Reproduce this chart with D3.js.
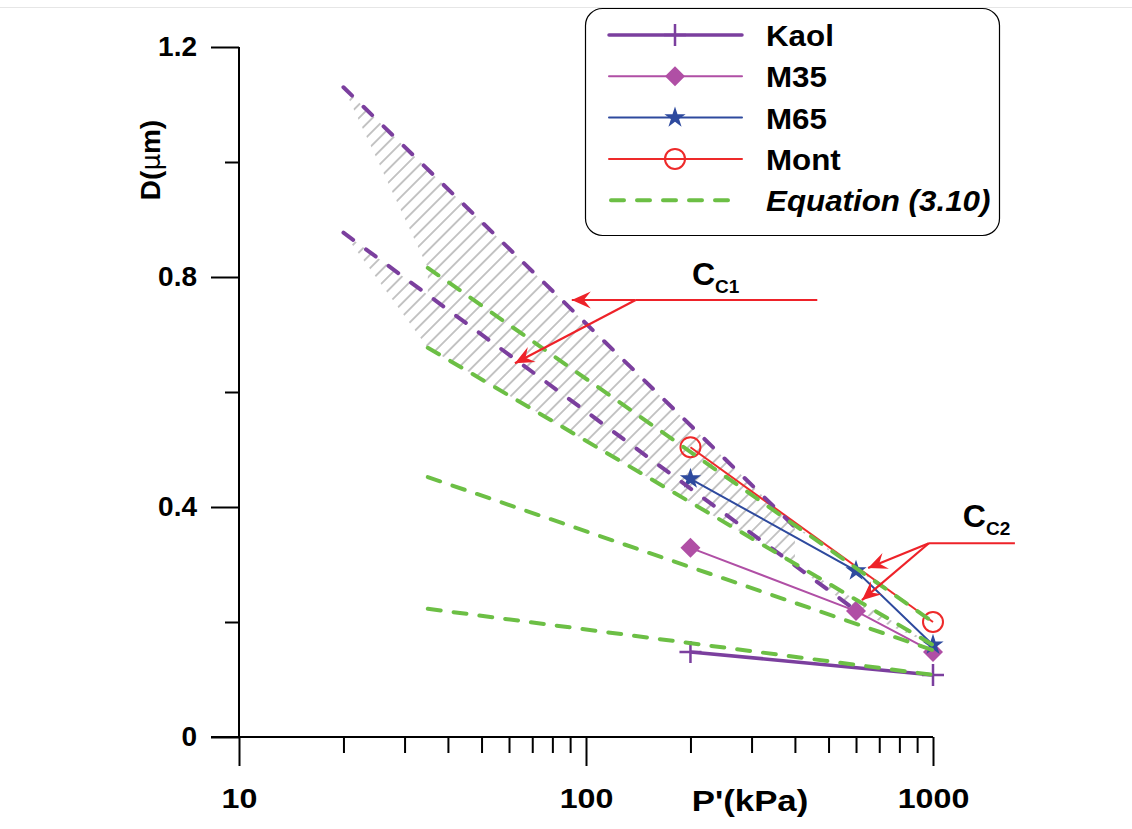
<!DOCTYPE html>
<html>
<head>
<meta charset="utf-8">
<script src="https://cdn.jsdelivr.net/npm/d3@7"></script>
<style>
  html, body { margin: 0; padding: 0; background: #ffffff; }
  svg { display: block; font-family: "Liberation Sans", Arial, sans-serif; }
</style>
</head>
<body>
<svg id="chart" width="1132" height="829"></svg>
<script>
// ---------- data ----------
const xTicksMajor = [10, 100, 1000];
const xTicksMinor = [20, 30, 40, 50, 60, 70, 80, 90, 200, 300, 400, 500, 600, 700, 800, 900];
const yTicksMajor = [0, 0.4, 0.8, 1.2];
const yTicksMinor = [0.2, 0.6, 1.0];

const kaolP = [200, 1000];
const kaolD = [0.148, 0.108];
const m35P = [200, 600, 1000];
const m35D = [0.329, 0.219, 0.148];
const m65P = [200, 600, 1000];
const m65D = [0.449, 0.289, 0.160];
const montP = [200, 1000];
const montD = [0.504, 0.200];

// Equation (3.10) curves
const eqP = [35, 1000];
const eq1D = [0.816, 0.200];
const eq2D = [0.677, 0.160];
const eq3D = [0.452, 0.151];
const eq4D = [0.223, 0.108];

// Cc1 boundary lines (purple dashed)
const ccUpperP = [20, 400];
const ccUpperD = [1.13, 0.365];
const ccLowerP = [20, 600];
const ccLowerD = [0.877, 0.220];

// pressure range of the hatched strip between Equation line 1 and the lower Cc1 line
const gapP = [35, 400];

// annotations (data units)
const cc1Label = { P: 202, D: 0.786, sub: "C1" };
const cc1Line = [[464, 0.76], [139, 0.76]];
const cc1Tips = [[91, 0.76], [62.4, 0.65]];
const cc2Label = { P: 1219, D: 0.365, sub: "C2" };
const cc2Line = [[1722, 0.337], [973, 0.337]];
const cc2Tips = [[650, 0.294], [624, 0.238]];

const legendItems = ["Kaol", "M35", "M65", "Mont", "Equation (3.10)"];

// ---------- colours ----------
const cKaol = "#7B3F9E", cM35 = "#B04FA5", cM65 = "#2E4A9E", cMont = "#EE2A2A";
const cEq = "#6CBF45", cHatch = "#BBBBBB", cRed = "#EE2229";

// ---------- scales ----------
const svg = d3.select("#chart");
const x = d3.scaleLog().domain([10, 1000]).range([239, 933]);
const y = d3.scaleLinear().domain([0, 1.2]).range([737, 47]);
const zip = (P, D) => P.map((p, i) => [p, D[i]]);
const line = d3.line().x(d => x(d[0])).y(d => y(d[1]));
// value on a straight (log-P) line at pressure p
const onLine = (P, D, p) => {
  const t = Math.log(p / P[0]) / Math.log(P[1] / P[0]);
  return D[0] + t * (D[1] - D[0]);
};

// faint top border
svg.append("line").attr("x1", 0).attr("x2", 1132).attr("y1", 7.5).attr("y2", 7.5)
  .attr("stroke", "#e6e6e6").attr("stroke-width", 1);

// ---------- defs ----------
const defs = svg.append("defs");
const pat = defs.append("pattern").attr("id", "hatch").attr("patternUnits", "userSpaceOnUse")
  .attr("width", 9.5).attr("height", 9.5).attr("patternTransform", "rotate(45)");
pat.append("line").attr("x1", 4.75).attr("x2", 4.75).attr("y1", 0).attr("y2", 9.5)
  .attr("stroke", cHatch).attr("stroke-width", 1.7);
defs.append("marker").attr("id", "arrow").attr("markerUnits", "userSpaceOnUse")
  .attr("viewBox", "-20 -10 22 20").attr("refX", 0).attr("refY", 0)
  .attr("markerWidth", 22).attr("markerHeight", 20).attr("orient", "auto")
  .append("path").attr("d", "M0,0 L-19,-8.5 L-12,0 L-19,8.5 Z").attr("fill", cRed);

// ---------- hatch areas ----------
function bandPath(upper, lower) {
  return "M" + upper.map(d => [x(d[0]), y(d[1])].join(",")).join("L") + "L" +
    lower.slice().reverse().map(d => [x(d[0]), y(d[1])].join(",")).join("L") + "Z";
}
const gapUpper = gapP.map(p => [p, onLine(eqP, eq1D, p)]);
const gapLower = gapP.map(p => [p, onLine(ccLowerP, ccLowerD, p)]);
[
  [zip(ccUpperP, ccUpperD), zip(eqP, eq1D)],
  [gapUpper, gapLower],
  [zip(ccLowerP, ccLowerD), zip(eqP, eq2D)]
].forEach(b => svg.append("path").attr("d", bandPath(b[0], b[1])).attr("fill", "url(#hatch)"));

// ---------- axes ----------
const axisFont = g => g.selectAll("text").attr("font-size", 28).attr("font-weight", "bold")
  .attr("fill", "#000").attr("font-family", "'Liberation Sans', Arial, sans-serif");

const gx = svg.append("g").attr("transform", `translate(0,${y(0)})`);
gx.call(d3.axisBottom(x).tickValues(xTicksMajor).tickSize(29).tickSizeOuter(0)
  .tickPadding(22).tickFormat(d3.format("d")));
gx.select(".domain").remove();
gx.selectAll(".tick line").attr("stroke", "#000").attr("stroke-width", 2);
axisFont(gx);
gx.selectAll(".tick text").attr("transform", "scale(1.15,1)");
const gxm = svg.append("g").attr("transform", `translate(0,${y(0)})`);
gxm.call(d3.axisBottom(x).tickValues(xTicksMinor).tickSize(16).tickFormat(""));
gxm.select(".domain").remove();
gxm.selectAll(".tick line").attr("stroke", "#000").attr("stroke-width", 2);
svg.append("line").attr("x1", x(10) - 28).attr("x2", x(1000)).attr("y1", y(0)).attr("y2", y(0))
  .attr("stroke", "#000").attr("stroke-width", 2);

const gy = svg.append("g").attr("transform", `translate(${x(10)},0)`);
gy.call(d3.axisLeft(y).tickValues(yTicksMajor).tickSize(28).tickSizeOuter(0).tickPadding(14)
  .tickFormat(d => d === 0 ? "0" : d3.format(".1f")(d)));
gy.select(".domain").remove();
gy.selectAll(".tick line").attr("stroke", "#000").attr("stroke-width", 2);
axisFont(gy);
const gym = svg.append("g").attr("transform", `translate(${x(10)},0)`);
gym.call(d3.axisLeft(y).tickValues(yTicksMinor).tickSize(14).tickFormat(""));
gym.select(".domain").remove();
gym.selectAll(".tick line").attr("stroke", "#000").attr("stroke-width", 2);
svg.append("line").attr("x1", x(10)).attr("x2", x(10)).attr("y1", y(1.2)).attr("y2", y(0))
  .attr("stroke", "#000").attr("stroke-width", 2);

// axis titles
svg.append("text").attr("transform", "translate(750,811) scale(1.2,1)").attr("text-anchor", "middle")
  .attr("font-size", 29).attr("font-weight", "bold").text("P'(kPa)");
const yt = svg.append("text").attr("transform", "translate(160,160) rotate(-90)")
  .attr("text-anchor", "middle").attr("font-size", 28).attr("font-weight", "bold");
yt.append("tspan").text("D(");
yt.append("tspan").attr("font-weight", "normal").attr("font-family", "'DejaVu Sans', sans-serif").attr("font-size", 26).text("μ");
yt.append("tspan").text("m)");

// ---------- markers ----------
const plusPath = "M-11,0H11M0,-11V11";
const diamondPath = d3.symbol(d3.symbolSquare, 200)();
const starPath = d3.symbol(d3.symbolStar, 140)();
function drawMarker(g, type, cx, cy) {
  if (type === "Kaol") g.append("path").attr("d", plusPath).attr("transform", `translate(${cx},${cy})`)
    .attr("stroke", cKaol).attr("stroke-width", 2.5).attr("fill", "none");
  if (type === "M35") g.append("path").attr("d", diamondPath).attr("transform", `translate(${cx},${cy}) rotate(45)`)
    .attr("fill", cM35);
  if (type === "M65") g.append("path").attr("d", starPath).attr("transform", `translate(${cx},${cy})`)
    .attr("fill", cM65);
  if (type === "Mont") g.append("circle").attr("cx", cx).attr("cy", cy).attr("r", 10)
    .attr("fill", "none").attr("stroke", cMont).attr("stroke-width", 2);
}

// ---------- data series ----------
const series = [
  { name: "Kaol", data: zip(kaolP, kaolD), color: cKaol, w: 3.5 },
  { name: "M35", data: zip(m35P, m35D), color: cM35, w: 2 },
  { name: "M65", data: zip(m65P, m65D), color: cM65, w: 2 },
  { name: "Mont", data: zip(montP, montD), color: cMont, w: 2 }
];
const gs = svg.append("g");
series.forEach(s => {
  gs.append("path").attr("d", line(s.data)).attr("fill", "none").attr("stroke", s.color).attr("stroke-width", s.w);
});
series.forEach(s => s.data.forEach(d => drawMarker(gs, s.name, x(d[0]), y(d[1]))));

// ---------- purple dashed Cc1 boundaries ----------
[zip(ccUpperP, ccUpperD), zip(ccLowerP, ccLowerD)].forEach(d => {
  svg.append("path").attr("d", line(d)).attr("fill", "none").attr("stroke", cKaol)
    .attr("stroke-width", 4).attr("stroke-linecap", "round").attr("stroke-dasharray", "12,16");
});
// ---------- green dashed Equation (3.10) ----------
[eq1D, eq2D, eq3D, eq4D].forEach(D => {
  svg.append("path").attr("d", line(zip(eqP, D))).attr("fill", "none").attr("stroke", cEq)
    .attr("stroke-width", 4).attr("stroke-linecap", "round").attr("stroke-dasharray", "13,13");
});

// ---------- annotations ----------
function annot(label, ln, tips) {
  const j = ln[1];
  svg.append("line").attr("x1", x(ln[0][0])).attr("y1", y(ln[0][1])).attr("x2", x(j[0])).attr("y2", y(j[1]))
    .attr("stroke", cRed).attr("stroke-width", 2.2);
  tips.forEach(t => {
    svg.append("line").attr("x1", x(j[0])).attr("y1", y(j[1])).attr("x2", x(t[0])).attr("y2", y(t[1]))
      .attr("stroke", cRed).attr("stroke-width", 2.2).attr("marker-end", "url(#arrow)");
  });
  const t = svg.append("text").attr("x", x(label.P)).attr("y", y(label.D)).attr("font-weight", "bold");
  t.append("tspan").attr("font-size", 32).text("C");
  t.append("tspan").attr("font-size", 19).attr("dy", 8).text(label.sub);
}
annot(cc1Label, cc1Line, cc1Tips);
annot(cc2Label, cc2Line, cc2Tips);

// ---------- legend ----------
const lg = svg.append("g");
lg.append("rect").attr("x", 585.5).attr("y", 8.5).attr("width", 414).attr("height", 227).attr("rx", 17)
  .attr("fill", "#fff").attr("stroke", "#000").attr("stroke-width", 1.2);
const legColors = [cKaol, cM35, cM65, cMont, cEq];
const legW = [3.5, 2, 2, 2, 4];
legendItems.forEach((name, i) => {
  const ry = 35 + i * 41.3;
  const l = lg.append("line").attr("x1", 609).attr("x2", 742).attr("y1", ry).attr("y2", ry)
    .attr("stroke", legColors[i]).attr("stroke-width", legW[i]);
  if (i === 4) l.attr("stroke-dasharray", "13,13").attr("stroke-linecap", "round").attr("x1", 611).attr("x2", 735);
  else l.attr("stroke-linecap", "round");
  if (i < 4) drawMarker(lg, name, 675, ry);
  const tx = lg.append("text").attr("transform", `translate(766,${ry + 11}) scale(1.08,1)`).attr("font-size", 29)
    .attr("font-weight", "bold").text(name);
  if (i === 4) tx.attr("font-style", "italic");
});
</script>
</body>
</html>
